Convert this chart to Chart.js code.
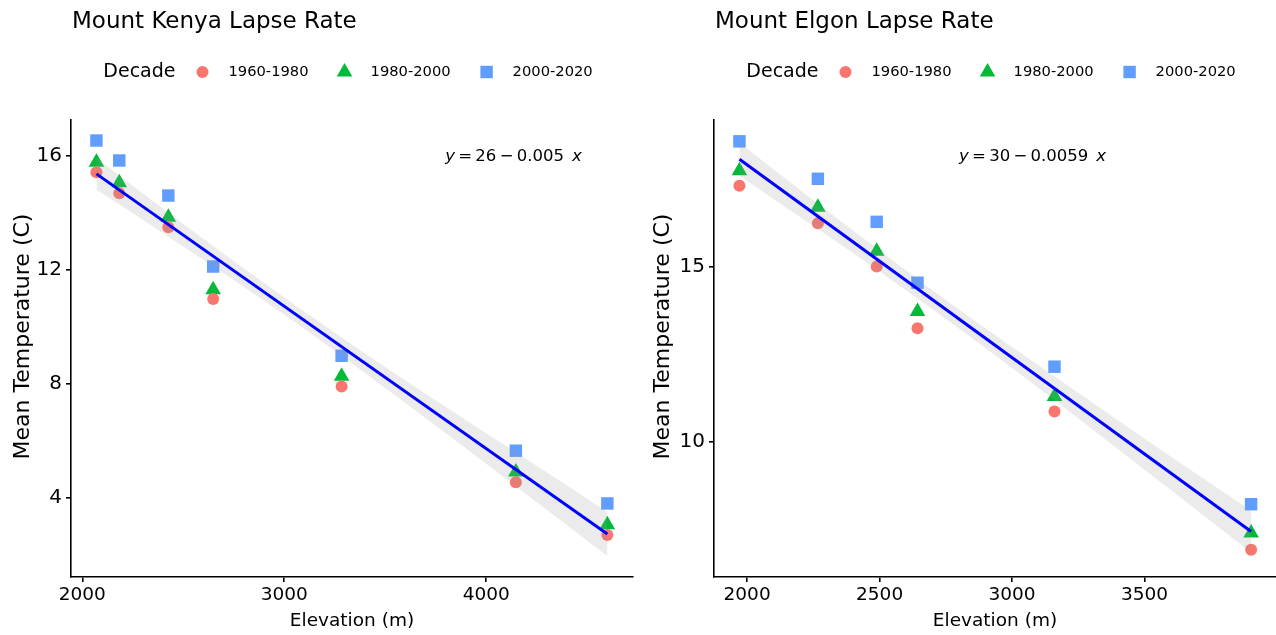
<!DOCTYPE html>
<html>
<head>
<meta charset="utf-8">
<title>Lapse Rate</title>
<script src="https://cdn.jsdelivr.net/npm/chart.js@4.4.1/dist/chart.umd.min.js"></script>
<style>
    html, body { margin: 0; padding: 0; background: #fff; }
    .wrap { display: flex; width: 1276px; height: 635px; }
    canvas { display: block; }
</style>
</head>
<body>
<div class="wrap">
    <canvas id="kenyaChart" width="638" height="635"></canvas>
    <canvas id="elgonChart" width="638" height="635"></canvas>
</div>
<script>
(function() {
    'use strict';

    var decades = ['1960-1980', '1980-2000', '2000-2020'];
    var decadeColors = ['#F8766D', '#00BA38', '#619CFF'];
    var decadeShapes = ['circle', 'triangle', 'rect'];
    var decadeSizes = [6, 9, 8.8];

    // Mount Kenya
    var kenyaElev = [2070, 2183, 2426, 2648, 3284, 4147, 4600];
    var kenyaT1960 = [15.43, 14.69, 13.50, 10.98, 7.91, 4.55, 2.70];
    var kenyaT1980 = [15.78, 15.06, 13.85, 11.31, 8.27, 4.91, 3.06];
    var kenyaT2000 = [16.54, 15.84, 14.61, 12.12, 8.99, 5.66, 3.81];
    var kenyaFitX = [2070, 4600];
    var kenyaFitY = [15.37, 2.74];
    var kenyaBandX = [2070, 2400, 2750, 3050, 3400, 3800, 4200, 4600];
    var kenyaBandLo = [14.81, 13.29, 11.65, 10.18, 8.39, 6.27, 4.12, 1.97];
    var kenyaBandHi = [15.93, 14.15, 12.31, 10.78, 9.07, 7.19, 5.36, 3.51];
    var kenyaXTicks = [2000, 3000, 4000];
    var kenyaYTicks = [4, 8, 12, 16];
    var kenyaXRange = [1944, 4727];
    var kenyaYRange = [1.23, 17.26];
    var kenyaEq = ['26', '0.005'];

    // Mount Elgon
    var elgonElev = [1971, 2267, 2489, 2643, 3160, 3902];
    var elgonT1960 = [17.31, 16.24, 15.00, 13.24, 10.86, 6.91];
    var elgonT1980 = [17.74, 16.70, 15.44, 13.72, 11.29, 7.39];
    var elgonT2000 = [18.58, 17.51, 16.28, 14.54, 12.14, 8.21];
    var elgonFitX = [1971, 3902];
    var elgonFitY = [18.07, 7.43];
    var elgonBandX = [1971, 2250, 2500, 2740, 3000, 3300, 3600, 3902];
    var elgonBandLo = [17.60, 16.16, 14.86, 13.56, 12.10, 10.37, 8.61, 6.83];
    var elgonBandHi = [18.54, 16.90, 15.46, 14.10, 12.70, 11.13, 9.57, 8.03];
    var elgonXTicks = [2000, 2500, 3000, 3500];
    var elgonYTicks = [10, 15];
    var elgonXRange = [1875, 3996];
    var elgonYRange = [6.13, 19.19];
    var elgonEq = ['30', '0.0059'];

    var FONT = '"DejaVu Sans", sans-serif';
    Chart.defaults.font.family = FONT;
    Chart.defaults.color = '#000';

    function pts(xs, ys) {
        return xs.map(function(x, i) { return { x: x, y: ys[i] }; });
    }

    function drawMarker(ctx, style, x, y, r, color) {
        ctx.fillStyle = color;
        ctx.beginPath();
        if (style === 'circle') {
            ctx.arc(x, y, r, 0, Math.PI * 2);
        } else if (style === 'triangle') {
            ctx.moveTo(x, y - r);
            ctx.lineTo(x + r * 0.866, y + r / 2);
            ctx.lineTo(x - r * 0.866, y + r / 2);
            ctx.closePath();
        } else {
            var s = r * Math.SQRT1_2;
            ctx.rect(x - s, y - s, 2 * s, 2 * s);
        }
        ctx.fill();
    }

    // title, y axis title, "Decade" legend row and regression equation
    var panelDecor = {
        id: 'panelDecor',
        afterDraw: function(chart, args, opts) {
            var ctx = chart.ctx;
            var area = chart.chartArea;
            ctx.save();
            ctx.fillStyle = '#000';
            ctx.textBaseline = 'middle';
            ctx.textAlign = 'left';

            ctx.font = '23px ' + FONT;
            ctx.fillText(opts.title, area.left + 1, 22);

            // y axis title
            ctx.save();
            ctx.translate(opts.yTitleX, (area.top + area.bottom) / 2 - 12);
            ctx.rotate(-Math.PI / 2);
            ctx.textAlign = 'center';
            ctx.font = '22px ' + FONT;
            ctx.fillText('Mean Temperature (C)', 0, 0);
            ctx.restore();

            // legend row
            var legendY = 72;
            ctx.font = '19px ' + FONT;
            var wTitle = ctx.measureText('Decade').width;
            ctx.font = '14.7px ' + FONT;
            var wLabels = decades.map(function(d) { return ctx.measureText(d).width; });
            var total = wTitle + 27;
            wLabels.forEach(function(w, i) {
                total += 26 + w + (i < wLabels.length - 1 ? 36 : 0);
            });
            var x = (area.left + area.right) / 2 - 4 - total / 2;
            ctx.font = '19px ' + FONT;
            ctx.fillText('Decade', x, legendY);
            x += wTitle + 27;
            decades.forEach(function(d, i) {
                drawMarker(ctx, decadeShapes[i], x, legendY, decadeSizes[i], decadeColors[i]);
                ctx.fillStyle = '#000';
                ctx.font = '14.7px ' + FONT;
                ctx.fillText(d, x + 26, legendY);
                x += 26 + wLabels[i] + 36;
            });

            // equation
            var ex = chart.scales.x.getPixelForValue(opts.eqAt[0]);
            var ey = chart.scales.y.getPixelForValue(opts.eqAt[1]);
            var italic = 'italic 16.5px ' + FONT;
            var normal = '16.5px ' + FONT;
            var mid = '\u2009=\u2009' + opts.eq[0] + '\u2009\u2212\u2009' + opts.eq[1];
            ctx.font = italic;
            var wy = ctx.measureText('y').width;
            var wx = ctx.measureText('x').width;
            ctx.font = normal;
            var wm = ctx.measureText(mid).width;
            var gap = 8;
            var sx = ex - (wy + wm + gap + wx) / 2;
            ctx.font = italic;
            ctx.fillText('y', sx, ey);
            ctx.font = normal;
            ctx.fillText(mid, sx + wy, ey);
            ctx.font = italic;
            ctx.fillText('x', sx + wy + wm + gap, ey);
            ctx.restore();
        }
    };

    function buildChart(canvasId, p) {
        var ctx = document.getElementById(canvasId).getContext('2d');
        var series = [p.t1960, p.t1980, p.t2000];
        var datasets = series.map(function(vals, i) {
            return {
                label: decades[i],
                data: pts(p.elev, vals),
                pointStyle: decadeShapes[i],
                pointRadius: decadeSizes[i],
                pointBackgroundColor: decadeColors[i],
                pointBorderColor: decadeColors[i],
                pointBorderWidth: 0,
                order: 3
            };
        });
        datasets.push({
            type: 'line',
            label: 'band-lo',
            data: pts(p.bandX, p.bandLo),
            borderColor: 'rgba(0,0,0,0)',
            borderWidth: 0,
            pointRadius: 0,
            cubicInterpolationMode: 'monotone',
            fill: false,
            order: 2
        });
        datasets.push({
            type: 'line',
            label: 'band-hi',
            data: pts(p.bandX, p.bandHi),
            borderColor: 'rgba(0,0,0,0)',
            borderWidth: 0,
            pointRadius: 0,
            cubicInterpolationMode: 'monotone',
            fill: '-1',
            backgroundColor: 'rgba(153,153,153,0.2)',
            order: 2
        });
        datasets.push({
            type: 'line',
            label: 'fit',
            data: pts(p.fitX, p.fitY),
            borderColor: '#0000FF',
            borderWidth: 3,
            pointRadius: 0,
            fill: false,
            order: 1
        });

        var xTickFont = { family: FONT, size: 18.5 };
        var yTickFont = { family: FONT, size: 20 };
        var xTitleFont = { family: FONT, size: 18.5 };

        return new Chart(ctx, {
            type: 'scatter',
            data: { datasets: datasets },
            plugins: [panelDecor],
            options: {
                responsive: false,
                animation: false,
                events: [],
                layout: { autoPadding: false, padding: { top: 120, right: p.padRight, left: 0, bottom: 0 } },
                plugins: {
                    legend: { display: false },
                    tooltip: { enabled: false },
                    panelDecor: { title: p.title, eq: p.eq, eqAt: p.eqAt, yTitleX: p.yTitleX }
                },
                scales: {
                    x: {
                        type: 'linear',
                        min: p.xRange[0],
                        max: p.xRange[1],
                        afterBuildTicks: function(axis) {
                            axis.ticks = p.xTicks.map(function(v) { return { value: v }; });
                        },
                        afterFit: function(axis) { axis.height = 58; },
                        border: { display: true, color: '#000', width: 1.6 },
                        grid: { display: true, drawOnChartArea: false, drawTicks: true, tickLength: 5, color: '#000', lineWidth: 1.6 },
                        ticks: {
                            color: '#000',
                            font: xTickFont,
                            padding: 2,
                            maxRotation: 0,
                            callback: function(v) { return String(v); }
                        },
                        title: { display: true, text: 'Elevation (m)', color: '#000', font: xTitleFont, padding: { top: 0, bottom: 3 } }
                    },
                    y: {
                        type: 'linear',
                        min: p.yRange[0],
                        max: p.yRange[1],
                        afterBuildTicks: function(axis) {
                            axis.ticks = p.yTicks.map(function(v) { return { value: v }; });
                        },
                        afterFit: function(axis) { axis.width = p.yAxisWidth; },
                        border: { display: true, color: '#000', width: 1.6 },
                        grid: { display: true, drawOnChartArea: false, drawTicks: true, tickLength: 5, color: '#000', lineWidth: 1.6 },
                        ticks: {
                            color: '#000',
                            font: yTickFont,
                            padding: 4,
                            callback: function(v) { return String(v); }
                        },
                        title: { display: false }
                    }
                }
            }
        });
    }

    buildChart('kenyaChart', {
        title: 'Mount Kenya Lapse Rate',
        elev: kenyaElev, t1960: kenyaT1960, t1980: kenyaT1980, t2000: kenyaT2000,
        fitX: kenyaFitX, fitY: kenyaFitY,
        bandX: kenyaBandX, bandLo: kenyaBandLo, bandHi: kenyaBandHi,
        xTicks: kenyaXTicks, yTicks: kenyaYTicks,
        xRange: kenyaXRange, yRange: kenyaYRange,
        eq: kenyaEq, eqAt: [4135, 15.97],
        yAxisWidth: 71, yTitleX: 23, padRight: 5
    });

    buildChart('elgonChart', {
        title: 'Mount Elgon Lapse Rate',
        elev: elgonElev, t1960: elgonT1960, t1980: elgonT1980, t2000: elgonT2000,
        fitX: elgonFitX, fitY: elgonFitY,
        bandX: elgonBandX, bandLo: elgonBandLo, bandHi: elgonBandHi,
        xTicks: elgonXTicks, yTicks: elgonYTicks,
        xRange: elgonXRange, yRange: elgonYRange,
        eq: elgonEq, eqAt: [3077, 18.14],
        yAxisWidth: 76, yTitleX: 25, padRight: 0
    });
})();
</script>
</body>
</html>
